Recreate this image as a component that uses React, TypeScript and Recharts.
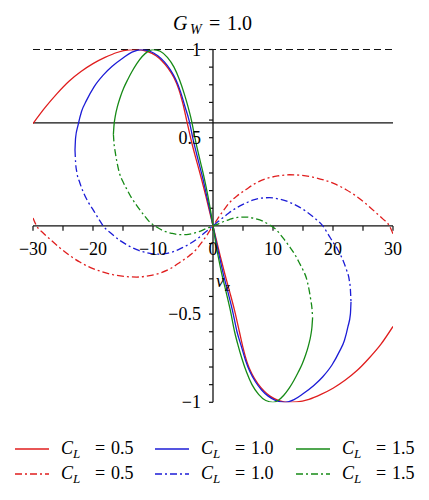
import { LineChart, Line, XAxis, YAxis, ReferenceLine, ReferenceDot } from 'recharts';

type Pt = [number, number];

// x tick marks every 5, labels every 10
const xTickMarks = [-30, -25, -20, -15, -10, -5, 0, 5, 10, 15, 20, 25, 30];
const xTickLabels = [-30, -20, -10, 0, 10, 20, 30];
const yTickMarks = [-1, -0.9, -0.8, -0.7, -0.6, -0.5, -0.4, -0.3, -0.2, -0.1, 0.1, 0.2, 0.3, 0.4, 0.5, 0.6, 0.7, 0.8, 0.9, 1];
const yTickLabels = [1, 0.5, -0.5, -1];

const upperBound = 1;
const crossLevel = 0.584;

const redSolid: Pt[] = [
  [-30, 0.58], [-28, 0.67], [-26, 0.75], [-24, 0.82], [-22, 0.875], [-20, 0.92], [-18, 0.955], [-16, 0.983],
  [-14, 0.998], [-12.5, 1.0], [-11, 0.99], [-9.5, 0.965], [-8.5, 0.935], [-7.5, 0.895], [-6.5, 0.84], [-5.7, 0.775],
  [-5.0, 0.69], [-4.4, 0.6], [-3.6, 0.48], [-2.75, 0.37], [-1.95, 0.27], [-1.2, 0.17], [-0.6, 0.085], [0, 0],
  [0.6, -0.085], [1.2, -0.17], [1.95, -0.27], [2.75, -0.37], [3.6, -0.48], [4.4, -0.6], [5.0, -0.69], [5.7, -0.775],
  [6.5, -0.84], [7.5, -0.895], [8.5, -0.935], [9.5, -0.965], [11, -0.99], [12.5, -1.0], [14, -0.998], [16, -0.983],
  [18, -0.955], [20, -0.92], [22, -0.875], [24, -0.82], [26, -0.75], [28, -0.67], [30, -0.57],
];

const blueSolid: Pt[] = [
  [-23, 0.43], [-22.9, 0.5], [-22.5, 0.57], [-21.9, 0.65], [-21.1, 0.71], [-19.8, 0.79], [-18.3, 0.855], [-16.8, 0.905],
  [-15, 0.952], [-13.5, 0.985], [-12, 1.0], [-10.5, 0.99], [-9.2, 0.965], [-8.1, 0.93], [-7.1, 0.885], [-6.2, 0.83],
  [-5.4, 0.76], [-4.7, 0.68], [-4.0, 0.6], [-3.25, 0.48], [-2.45, 0.37], [-1.7, 0.27], [-1.05, 0.17], [-0.5, 0.085], [0, 0],
  [0.5, -0.085], [1.05, -0.17], [1.7, -0.27], [2.45, -0.37], [3.25, -0.48], [4.0, -0.6], [4.7, -0.68], [5.4, -0.76],
  [6.2, -0.83], [7.1, -0.885], [8.1, -0.93], [9.2, -0.965], [10.5, -0.99], [12, -1.0], [13.5, -0.985], [15, -0.952],
  [16.8, -0.905], [18.3, -0.855], [19.8, -0.79], [21.1, -0.71], [21.9, -0.65], [22.5, -0.57], [22.9, -0.5], [23, -0.43],
];

const greenSolid: Pt[] = [
  [-16.6, 0.52], [-16.5, 0.57], [-16.3, 0.62], [-15.9, 0.68], [-15.4, 0.735], [-14.9, 0.78], [-14.2, 0.83], [-13.5, 0.875],
  [-12.7, 0.92], [-11.8, 0.96], [-10.9, 0.988], [-10, 1.0], [-8.8, 0.99], [-7.6, 0.955], [-6.5, 0.9], [-5.6, 0.83],
  [-4.8, 0.75], [-4.2, 0.68], [-3.6, 0.6], [-2.9, 0.48], [-2.15, 0.37], [-1.45, 0.27], [-0.85, 0.17], [-0.4, 0.085], [0, 0],
  [0.4, -0.085], [0.85, -0.17], [1.45, -0.27], [2.15, -0.37], [2.9, -0.48], [3.6, -0.6], [4.2, -0.68], [4.8, -0.75],
  [5.6, -0.83], [6.5, -0.9], [7.6, -0.955], [8.8, -0.99], [10, -1.0], [10.9, -0.988], [11.8, -0.96], [12.7, -0.92],
  [13.5, -0.875], [14.2, -0.83], [14.9, -0.78], [15.4, -0.735], [15.9, -0.68], [16.3, -0.62], [16.5, -0.57], [16.6, -0.52],
];

const redDash: Pt[] = [
  [-30, 0.045], [-29.4, 0], [-28.3, -0.04], [-27.2, -0.074], [-25.5, -0.125], [-23.8, -0.17], [-22.2, -0.205],
  [-20.5, -0.235], [-18.5, -0.26], [-16.6, -0.277], [-14.6, -0.287], [-12.7, -0.29], [-10.8, -0.283], [-8.8, -0.267],
  [-7, -0.24], [-5.5, -0.206], [-4, -0.17], [-2.7, -0.13], [-1.8, -0.09], [-1, -0.052], [-0.4, -0.02], [0, 0],
  [0.4, 0.02], [1, 0.052], [1.8, 0.09], [2.7, 0.13], [4, 0.17], [5.5, 0.206], [7, 0.24], [8.8, 0.267], [10.8, 0.283],
  [12.7, 0.29], [14.6, 0.287], [16.6, 0.277], [18.5, 0.26], [20.5, 0.235], [22.2, 0.205], [23.8, 0.17], [25.5, 0.125],
  [27.2, 0.074], [28.3, 0.04], [29.4, 0], [30, -0.045],
];

const blueDash: Pt[] = [
  [-23, 0.43], [-22.9, 0.36], [-22.7, 0.305], [-22.2, 0.245], [-21.6, 0.19], [-20.8, 0.135], [-19.9, 0.087],
  [-19.1, 0.042], [-18.3, 0], [-16.9, -0.045], [-15.5, -0.083], [-14.1, -0.112], [-12.7, -0.135], [-11, -0.152],
  [-9.4, -0.16], [-8, -0.157], [-6.6, -0.146], [-5.2, -0.125], [-3.8, -0.1], [-2.6, -0.072], [-1.6, -0.045], [-0.7, -0.02], [0, 0],
  [0.7, 0.02], [1.6, 0.045], [2.6, 0.072], [3.8, 0.1], [5.2, 0.125], [6.6, 0.146], [8, 0.157], [9.4, 0.16], [11, 0.152],
  [12.7, 0.135], [14.1, 0.112], [15.5, 0.083], [16.9, 0.045], [18.3, 0], [19.1, -0.042], [19.9, -0.087], [20.8, -0.135],
  [21.6, -0.19], [22.2, -0.245], [22.7, -0.305], [22.9, -0.36], [23, -0.43],
];

const greenDash: Pt[] = [
  [-16.6, 0.52], [-16.5, 0.47], [-16.3, 0.42], [-16.0, 0.36], [-15.6, 0.3], [-15.0, 0.25], [-14.4, 0.21], [-13.6, 0.16],
  [-12.7, 0.115], [-11.6, 0.065], [-10.5, 0.02], [-9.4, -0.006], [-8.3, -0.027], [-6.9, -0.042], [-5.5, -0.05],
  [-4.1, -0.048], [-2.7, -0.036], [-1.8, -0.025], [-1.0, -0.013], [0, 0],
  [1.0, 0.013], [1.8, 0.025], [2.7, 0.036], [4.1, 0.048], [5.5, 0.05], [6.9, 0.042], [8.3, 0.027], [9.4, 0.006],
  [10.5, -0.02], [11.6, -0.065], [12.7, -0.115], [13.6, -0.16], [14.4, -0.21], [15.0, -0.25], [15.6, -0.3],
  [16.0, -0.36], [16.3, -0.42], [16.5, -0.47], [16.6, -0.52],
];

const RED = '#e01e1e';
const BLUE = '#1c1cd6';
const GREEN = '#168a16';
const DASHDOT = '7 3 2 3';
const FONT = '"Liberation Serif", "DejaVu Serif", serif';

const toPts = (a: Pt[]) => a.map(([x, y]) => ({ x, y }));

const series = [
  { name: 'redSolid', data: redSolid, color: RED, dash: undefined },
  { name: 'blueSolid', data: blueSolid, color: BLUE, dash: undefined },
  { name: 'greenSolid', data: greenSolid, color: GREEN, dash: undefined },
  { name: 'redDash', data: redDash, color: RED, dash: DASHDOT },
  { name: 'blueDash', data: blueDash, color: BLUE, dash: DASHDOT },
  { name: 'greenDash', data: greenDash, color: GREEN, dash: DASHDOT },
];

const fmt = (v: number) => String(v).replace('-', '\u2212');

const XLabel = (props: any) => {
  const { viewBox, value } = props;
  return (
    <text x={viewBox.x} y={viewBox.y + 29} textAnchor="middle" fontFamily={FONT} fontSize={18} fill="#000">
      {value}
    </text>
  );
};

const YLabel = (props: any) => {
  const { viewBox, value } = props;
  return (
    <text x={viewBox.x - 12} y={viewBox.y + 6} textAnchor="end" fontFamily={FONT} fontSize={18} fill="#000">
      {value}
    </text>
  );
};

const legendRows = [
  { y: 449, dash: undefined },
  { y: 474, dash: DASHDOT },
];
const legendCols = [
  { x: 15, color: RED, value: '0.5' },
  { x: 155, color: BLUE, value: '1.0' },
  { x: 296, color: GREEN, value: '1.5' },
];

export default function App() {
  return (
    <div style={{ position: 'absolute', left: 0, top: 0, width: 429, height: 500, background: '#fff' }}>
      <LineChart width={429} height={500} margin={{ top: 49.5, right: 36, bottom: 97.7, left: 33 }}>
        <XAxis type="number" dataKey="x" domain={[-30, 30]} hide allowDataOverflow />
        <YAxis type="number" dataKey="y" domain={[-1, 1]} hide allowDataOverflow />
        <ReferenceLine y={upperBound} stroke="#111" strokeWidth={1.2} strokeDasharray="7 4" />
        <ReferenceLine y={crossLevel} stroke="#111" strokeWidth={1.1} />
        <ReferenceLine y={0} stroke="#111" strokeWidth={1.3} />
        <ReferenceLine x={0} stroke="#111" strokeWidth={1.3} />
        {xTickMarks.map((v) => (
          <ReferenceLine key={`xt${v}`} segment={[{ x: v, y: 0 }, { x: v, y: -0.028 }]} stroke="#111" strokeWidth={1.2} />
        ))}
        {yTickMarks.map((v) => (
          <ReferenceLine key={`yt${v}`} segment={[{ x: -0.67, y: v }, { x: 0, y: v }]} stroke="#111" strokeWidth={1.2} />
        ))}
        {xTickLabels.map((v) => (
          <ReferenceDot key={`xl${v}`} x={v} y={0} r={0} fill="none" stroke="none"
            label={(p: any) => <XLabel {...p} value={fmt(v)} />} />
        ))}
        {yTickLabels.map((v) => (
          <ReferenceDot key={`yl${v}`} x={0} y={v} r={0} fill="none" stroke="none"
            label={(p: any) => <YLabel {...p} value={fmt(v)} />} />
        ))}
        {series.map((s) => (
          <Line
            key={s.name}
            data={toPts(s.data)}
            dataKey="y"
            type="monotone"
            stroke={s.color}
            strokeWidth={1.3}
            strokeDasharray={s.dash}
            dot={false}
            activeDot={false}
            isAnimationActive={false}
          />
        ))}
      </LineChart>
      <svg width={429} height={500} style={{ position: 'absolute', left: 0, top: 0, pointerEvents: 'none' }}>
        <text y={30} fontFamily={FONT} fontSize={20} fill="#000">
          <tspan x={173} fontStyle="italic">G</tspan>
          <tspan x={190} dy={4} fontSize={14} fontStyle="italic">W</tspan>
          <tspan x={209} dy={-4}>=</tspan>
          <tspan x={227}>1.0</tspan>
        </text>
        <text y={287} fontFamily={FONT} fontSize={18} fill="#000">
          <tspan x={216} fontStyle="italic">ν</tspan>
          <tspan x={225} dy={4} fontSize={13} fontStyle="italic">z</tspan>
        </text>
        {legendRows.map((r, ri) =>
          legendCols.map((c) => (
            <g key={`lg${ri}${c.x}`}>
              <line x1={c.x} x2={c.x + 34} y1={r.y} y2={r.y} stroke={c.color} strokeWidth={1.3} strokeDasharray={r.dash} />
              <text y={r.y + 5} fontFamily={FONT} fontSize={18} fill="#000">
                <tspan x={c.x + 46} fontStyle="italic">C</tspan>
                <tspan x={c.x + 58} dy={4} fontSize={13} fontStyle="italic">L</tspan>
                <tspan x={c.x + 80} dy={-4}>=</tspan>
                <tspan x={c.x + 96}>{c.value}</tspan>
              </text>
            </g>
          ))
        )}
      </svg>
    </div>
  );
}
